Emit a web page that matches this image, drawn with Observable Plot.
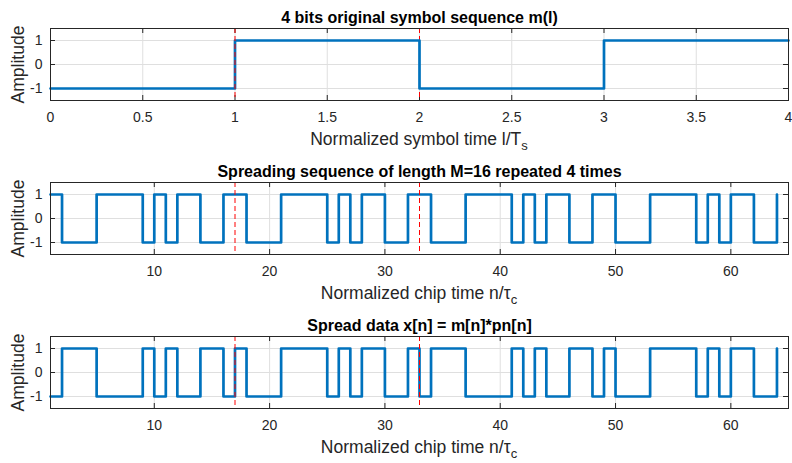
<!DOCTYPE html>
<html><head><meta charset="utf-8">
<script src="https://cdn.jsdelivr.net/npm/d3@7"></script>
<script src="https://cdn.jsdelivr.net/npm/@observablehq/plot@0.6"></script>
<style>
html,body{margin:0;padding:0;background:#fff;}
#chart{width:792px;height:463px;position:relative;overflow:hidden;}
#chart svg{display:block;}
</style></head><body><div id="chart"></div>
<script>
// ---- data ----
const symbolTimes = [0, 1, 2, 3, 4];
const symbolValues = [-1, 1, -1, 1, 1];
const pnChips = [
  1,-1,-1,-1, 1, 1, 1, 1,-1, 1,-1, 1, 1,-1,-1, 1,
  1,-1,-1,-1, 1, 1, 1, 1,-1, 1,-1, 1, 1,-1,-1, 1,
  1,-1,-1,-1, 1, 1, 1, 1,-1, 1,-1, 1, 1,-1,-1, 1,
  1,-1,-1,-1, 1, 1, 1, 1,-1, 1,-1, 1, 1,-1,-1, 1
];
const spreadChips = [
 -1, 1, 1, 1,-1,-1,-1,-1, 1,-1, 1,-1,-1, 1, 1,-1,
  1,-1,-1,-1, 1, 1, 1, 1,-1, 1,-1, 1, 1,-1,-1, 1,
 -1, 1, 1, 1,-1,-1,-1,-1, 1,-1, 1,-1,-1, 1, 1,-1,
  1,-1,-1,-1, 1, 1, 1, 1,-1, 1,-1, 1, 1,-1,-1, 1
];
const symbolTicks = [0, 0.5, 1, 1.5, 2, 2.5, 3, 3.5, 4];
const chipTicks = [10, 20, 30, 40, 50, 60];
const ampTicks = [-1, 0, 1];
const symbolMarkersUnder = [2];
const symbolMarkersOver = [1];
const chipMarkers = [17, 33];
const titles = [
  "4 bits original symbol sequence m(l)",
  "Spreading sequence of length M=16 repeated 4 times",
  "Spread data x[n] = m[n]*pn[n]"
];

const chipIndex = d3.range(1, pnChips.length + 1);
const symbolData = symbolTimes.map((t, i) => ({x: t, y: symbolValues[i]}));
const pnData = chipIndex.map((n, i) => ({x: n, y: pnChips[i]}));
const spreadData = chipIndex.map((n, i) => ({x: n, y: spreadChips[i]}));

const FONT = "'Liberation Sans', Arial, Helvetica, sans-serif";
const AX = "#262626";
const W = 792, ML = 50, MR = 4;

function panel({height, marginTop, marginBottom, domain, ticks, data, under, over, title, xlabel, xsub}) {
  const innerH = height - marginTop - marginBottom;
  const innerW = W - ML - MR;
  const red = {stroke: "#ff0000", strokeWidth: 1, strokeDasharray: "5,3"};
  const p = Plot.plot({
    width: W, height, marginLeft: ML, marginRight: MR, marginTop, marginBottom,
    style: {fontFamily: FONT, fontSize: "14px", color: AX, background: "white", overflow: "visible"},
    x: {domain},
    y: {domain: [-1.5, 1.5]},
    marks: [
      Plot.gridX(ticks, {stroke: "#dfdfdf", strokeOpacity: 1, strokeWidth: 1}),
      Plot.gridY(ampTicks, {stroke: "#dfdfdf", strokeOpacity: 1, strokeWidth: 1}),
      Plot.ruleX(ticks, {x: d => d, insetTop: innerH - 5, stroke: AX}),
      Plot.ruleX(ticks, {x: d => d, insetBottom: innerH - 5, stroke: AX}),
      Plot.ruleY(ampTicks, {y: d => d, insetRight: innerW - 5, stroke: AX}),
      Plot.ruleY(ampTicks, {y: d => d, insetLeft: innerW - 5, stroke: AX}),
      Plot.ruleX(under, {x: d => d, ...red}),
      Plot.line(data, {x: "x", y: "y", curve: "step-after", stroke: "#0072BD", strokeWidth: 2.7}),
      Plot.ruleX(over, {x: d => d, ...red}),
      Plot.axisX(ticks, {anchor: "bottom", tickSize: 0, tickPadding: 12, tickFormat: d => String(d), label: null, fill: AX, fontSize: 14}),
      Plot.axisY(ampTicks, {anchor: "left", tickSize: 0, tickPadding: 8, tickFormat: d => String(d), label: null, fill: AX, fontSize: 14}),
      Plot.frame({stroke: AX, strokeWidth: 1}),
      Plot.text([title], {frameAnchor: "top", textAnchor: "middle", lineAnchor: "bottom", dy: -5.5, text: d => d, fontWeight: "bold", fontSize: 16, fill: "#000"}),
      Plot.text(["Amplitude"], {frameAnchor: "left", textAnchor: "middle", rotate: -90, lineAnchor: "bottom", dx: -27, text: d => d, fontSize: 17.5, fill: AX})
    ]
  });
  const xs = p.scale("x");
  const cx = (xs.range[0] + xs.range[1]) / 2;
  const t = d3.select(p).append("text")
    .attr("x", cx).attr("y", height - marginBottom + 45)
    .attr("text-anchor", "middle")
    .attr("font-family", FONT).attr("font-size", 17.5).attr("fill", AX);
  t.append("tspan").text(xlabel);
  t.append("tspan").attr("dy", 5).attr("font-size", 13).text(xsub);
  return p;
}

const root = document.getElementById("chart");
root.appendChild(panel({height: 155, marginTop: 28, marginBottom: 55, domain: [0, 4], ticks: symbolTicks,
  data: symbolData, under: symbolMarkersUnder, over: symbolMarkersOver, title: titles[0],
  xlabel: "Normalized symbol time l/T", xsub: "s"}));
root.appendChild(panel({height: 155, marginTop: 27, marginBottom: 56, domain: [1, 65], ticks: chipTicks,
  data: pnData, under: [], over: chipMarkers, title: titles[1],
  xlabel: "Normalized chip time n/\u03C4", xsub: "c"}));
root.appendChild(panel({height: 153, marginTop: 26, marginBottom: 55, domain: [1, 65], ticks: chipTicks,
  data: spreadData, under: [], over: chipMarkers, title: titles[2],
  xlabel: "Normalized chip time n/\u03C4", xsub: "c"}));
</script></body></html>
